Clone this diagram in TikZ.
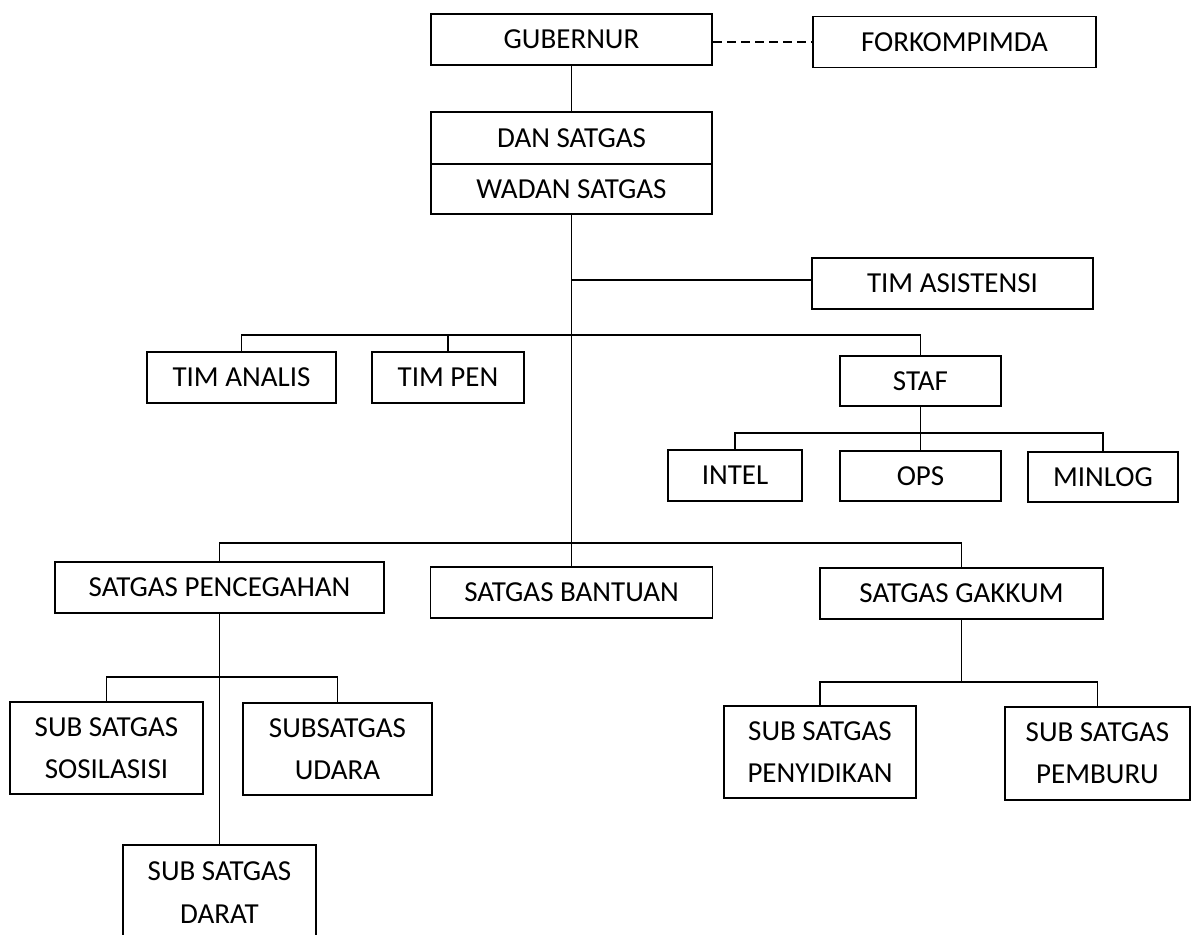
\documentclass[tikz,border=0pt]{standalone}
\usepackage{fontspec}
\usepackage{tikz}
\newfontfamily\orgfont{Carlito}

\begin{document}
\begin{tikzpicture}[x=0.2mm,y=-0.2mm,
    unit/.style={draw,line width=1.1pt,inner sep=0pt,align=center,
      font=\orgfont\fontsize{16.5}{24}\selectfont},
    sz/.style 2 args={minimum width=#1*0.2mm,minimum height=#2*0.2mm},
    link/.style={line width=0.8pt}]
    \useasboundingbox[fill=white] (0,0) rectangle (1193,935);
    \node[unit,sz={281}{51}] (gub) at (571.5,39.5) {GUBERNUR};
    \node[unit,sz={283}{51}] (fork) at (954.5,42) {FORKOMPIMDA};
    \node[unit,sz={281}{52}] (dan) at (571.5,138) {DAN SATGAS};
    \node[unit,sz={281}{50}] (wadan) at (571.5,189) {WADAN SATGAS};
    \node[unit,sz={281}{51}] (asis) at (952.5,283.5) {TIM ASISTENSI};
    \node[unit,sz={189}{51}] (analis) at (241.5,377.5) {TIM ANALIS};
    \node[unit,sz={152}{51}] (pen) at (448,377.5) {TIM PEN};
    \node[unit,sz={161}{50}] (staf) at (920.5,381) {STAF};
    \node[unit,sz={134}{51}] (intel) at (735,475.5) {INTEL};
    \node[unit,sz={161}{50}] (ops) at (920.5,476) {OPS};
    \node[unit,sz={150}{50}] (minlog) at (1103,477) {MINLOG};
    \node[unit,sz={329}{51}] (cegah) at (219.5,587.5) {SATGAS PENCEGAHAN};
    \node[unit,sz={282}{51}] (bantu) at (571.5,592.5) {SATGAS BANTUAN};
    \node[unit,sz={283}{51}] (gakkum) at (961.5,593.5) {SATGAS GAKKUM};
    \node[unit,sz={193}{92}] (sosi) at (106.5,748) {SUB SATGAS\\SOSILASISI};
    \node[unit,sz={189}{92}] (udara) at (337.5,749) {SUBSATGAS\\UDARA};
    \node[unit,sz={193}{95}] (darat) at (219.5,892.5) {SUB SATGAS\\DARAT};
    \node[unit,sz={192}{92}] (sidik) at (820,752) {SUB SATGAS\\PENYIDIKAN};
    \node[unit,sz={185}{93}] (buru) at (1097.5,753.5) {SUB SATGAS\\PEMBURU};
    % junctions
    \coordinate (j1) at (571.5,280);
    \coordinate (j2) at (571.5,335);
    \coordinate (j3) at (920.5,433);
    \coordinate (j4) at (571.5,543);
    \coordinate (j5) at (219.5,677);
    \coordinate (j6) at (961.5,682);
    \draw[link,dashed,dash pattern=on 5pt off 3pt] (fork.west -| gub.east) -- (fork.west);
    \draw[link] (gub.south) -- (dan.north);
    \draw[link] (wadan.south) -- (bantu.north);
    \draw[link] (j1) -- (j1 -| asis.west);
    \draw[link] (analis.north) |- (j2) -| (staf.north);
    \draw[link] (pen.north) -- (pen.north |- j2);
    \draw[link] (staf.south) -- (ops.north);
    \draw[link] (intel.north) |- (j3) -| (minlog.north);
    \draw[link] (cegah.north) |- (j4) -| (gakkum.north);
    \draw[link] (cegah.south) -- (darat.north);
    \draw[link] (sosi.north) |- (j5) -| (udara.north);
    \draw[link] (gakkum.south) -- (j6);
    \draw[link] (sidik.north) |- (j6) -| (buru.north);
\end{tikzpicture}
\end{document}
